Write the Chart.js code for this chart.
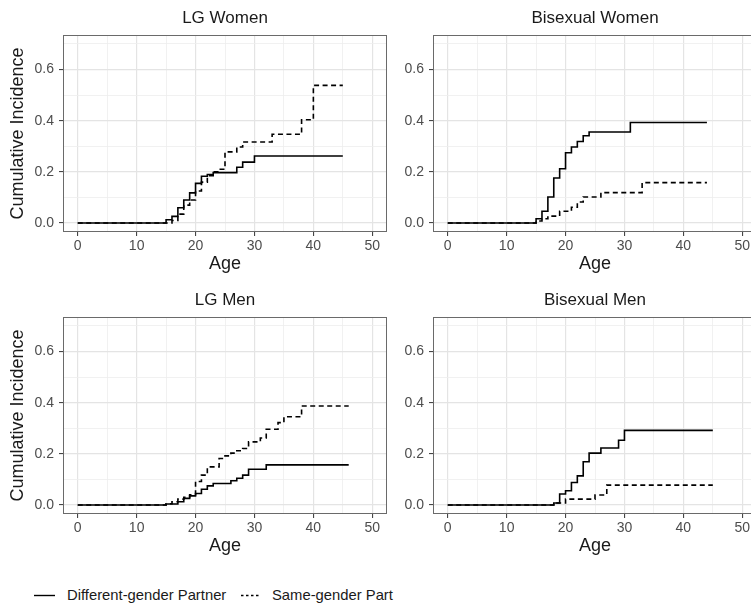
<!DOCTYPE html>
<html>
<head>
<meta charset="utf-8">
<script src="https://cdn.jsdelivr.net/npm/chart.js@4.4.1/dist/chart.umd.min.js"></script>
<style>
  html, body { margin: 0; padding: 0; background: #fff; overflow: hidden; }
  body { width: 751px; height: 608px; position: relative; font-family: "Liberation Sans", Arial, Helvetica, sans-serif; }
  .panel { position: absolute; width: 400px; height: 280px; }
  .legend { position: absolute; top: 585px; height: 20px; line-height: 20px; font-size: 14.8px; color: #1a1a1a; white-space: nowrap; }
  .legend svg { position: absolute; top: 0; }
</style>
</head>
<body>
<div class="panel" style="left:0px;top:0px"><canvas id="lgWomen" width="400" height="280"></canvas></div>
<div class="panel" style="left:370px;top:0px"><canvas id="biWomen" width="400" height="280"></canvas></div>
<div class="panel" style="left:0px;top:282px"><canvas id="lgMen" width="400" height="280"></canvas></div>
<div class="panel" style="left:370px;top:282px"><canvas id="biMen" width="400" height="280"></canvas></div>

<svg class="legend" style="left:34px;top:585px" width="22" height="20"><line x1="0" y1="10.5" x2="21" y2="10.5" stroke="#000" stroke-width="1.4"/></svg>
<div class="legend" style="left:67px">Different-gender Partner</div>
<svg class="legend" style="left:241px;top:585px" width="20" height="20"><line x1="0" y1="10.5" x2="18" y2="10.5" stroke="#000" stroke-width="1.4" stroke-dasharray="2.5,2.5"/></svg>
<div class="legend" style="left:272px">Same-gender Part</div>

<script>
// axis ticks (minor ones have empty labels)
const xTicks = [0, 5, 10, 15, 20, 25, 30, 35, 40, 45, 50];
const xLabels = ['0', '', '10', '', '20', '', '30', '', '40', '', '50'];
const yTicks = [0, 0.1, 0.2, 0.3, 0.4, 0.5, 0.6, 0.7];
const yLabels = ['0.0', '', '0.2', '', '0.4', '', '0.6', ''];

// LG Women
const lgWomenDiffAge = [0, 15, 16, 17, 18, 19, 20, 21, 22, 23, 27, 28, 30, 45];
const lgWomenDiffInc = [0, 0.013, 0.026, 0.06, 0.09, 0.118, 0.155, 0.183, 0.19, 0.197, 0.218, 0.238, 0.262, 0.262];
const lgWomenSameAge = [0, 16, 17, 18, 19, 20, 21, 22, 23, 24, 25, 27, 28, 33, 38, 40, 45];
const lgWomenSameInc = [0, 0.01, 0.035, 0.07, 0.09, 0.125, 0.16, 0.185, 0.2, 0.21, 0.278, 0.297, 0.317, 0.347, 0.404, 0.538, 0.538];

// Bisexual Women
const biWomenDiffAge = [0, 15, 16, 17, 18, 19, 20, 21, 22, 23, 24, 31, 44];
const biWomenDiffInc = [0, 0.017, 0.046, 0.102, 0.176, 0.212, 0.275, 0.297, 0.319, 0.341, 0.356, 0.393, 0.393];
const biWomenSameAge = [0, 15, 16, 17, 19, 21, 22, 23, 26, 33, 44];
const biWomenSameInc = [0, 0.008, 0.017, 0.027, 0.046, 0.062, 0.082, 0.102, 0.119, 0.158, 0.158];

// LG Men
const lgMenDiffAge = [0, 15, 17, 18, 19, 20, 21, 22, 23, 26, 27, 28, 29, 32, 46];
const lgMenDiffInc = [0, 0.004, 0.013, 0.026, 0.036, 0.045, 0.062, 0.075, 0.084, 0.095, 0.105, 0.117, 0.14, 0.157, 0.157];
const lgMenSameAge = [0, 15, 16, 17, 18, 19, 20, 21, 22, 24, 25, 26, 27, 28, 29, 31, 32, 34, 35, 38, 46];
const lgMenSameInc = [0, 0.005, 0.013, 0.023, 0.03, 0.04, 0.092, 0.117, 0.149, 0.182, 0.192, 0.203, 0.212, 0.221, 0.247, 0.262, 0.296, 0.322, 0.345, 0.387, 0.387];

// Bisexual Men
const biMenDiffAge = [0, 18, 19, 20, 21, 22, 23, 24, 26, 29, 30, 45];
const biMenDiffInc = [0, 0.008, 0.043, 0.056, 0.088, 0.114, 0.169, 0.203, 0.223, 0.253, 0.292, 0.292];
const biMenSameAge = [0, 18, 20, 25, 27, 45];
const biMenSameInc = [0, 0.008, 0.023, 0.039, 0.078, 0.078];

Chart.defaults.font.family = '"Liberation Sans", Arial, Helvetica, sans-serif';

const panelBorder = {
    id: 'panelBorder',
    afterDatasetsDraw(chart) {
        const a = chart.chartArea;
        const ctx = chart.ctx;
        ctx.save();
        ctx.strokeStyle = '#6a6a6a';
        ctx.lineWidth = 1;
        ctx.strokeRect(Math.round(a.left) + 0.5, Math.round(a.top) + 0.5,
            Math.round(a.right - a.left) - 1, Math.round(a.bottom - a.top) - 1);
        ctx.restore();
    }
};

function toPoints(ages, inc) {
    return ages.map((a, i) => ({ x: a, y: inc[i] }));
}

function gridOpts(labels) {
    return {
        color: c => labels[c.index] === '' ? '#eeeeee' : '#e4e4e4',
        lineWidth: c => labels[c.index] === '' ? 0.8 : 1.2,
        tickColor: c => labels[c.index] === '' ? 'rgba(0,0,0,0)' : '#333333',
        tickLength: 4,
        tickWidth: 1
    };
}

function makePanel(id, title, diffAge, diffInc, sameAge, sameInc, showYTitle) {
    const ctx = document.getElementById(id).getContext('2d');
    return new Chart(ctx, {
        type: 'line',
        data: {
            datasets: [
                {
                    label: 'Different-gender Partner',
                    data: toPoints(diffAge, diffInc),
                    borderColor: '#000',
                    borderWidth: 1.6,
                    stepped: true,
                    pointRadius: 0,
                    fill: false
                },
                {
                    label: 'Same-gender Partner',
                    data: toPoints(sameAge, sameInc),
                    borderColor: '#000',
                    borderWidth: 1.6,
                    borderDash: [5, 3.5],
                    stepped: true,
                    pointRadius: 0,
                    fill: false
                }
            ]
        },
        options: {
            responsive: false,
            animation: false,
            layout: { padding: { left: 0, right: 13, top: 0, bottom: 0 } },
            plugins: {
                legend: { display: false },
                tooltip: { enabled: false },
                title: {
                    display: true,
                    text: title,
                    fullSize: false,
                    color: '#1a1a1a',
                    font: { size: 17, weight: 'normal' },
                    padding: { top: 8.3, bottom: 6.3 }
                }
            },
            scales: {
                x: {
                    type: 'linear',
                    min: -2.5,
                    max: 52.5,
                    afterBuildTicks: s => { s.ticks = xTicks.map(v => ({ value: v })); },
                    afterFit: s => { s.height = 48; },
                    border: { display: false },
                    grid: gridOpts(xLabels),
                    ticks: {
                        autoSkip: false,
                        maxRotation: 0,
                        padding: 2,
                        color: '#4d4d4d',
                        font: { size: 14 },
                        callback: (v, i) => xLabels[i]
                    },
                    title: {
                        display: true,
                        text: 'Age',
                        color: '#1a1a1a',
                        font: { size: 18 },
                        padding: { top: 0, bottom: 4.7 }
                    }
                },
                y: {
                    type: 'linear',
                    min: -0.035,
                    max: 0.735,
                    afterBuildTicks: s => { s.ticks = yTicks.map(v => ({ value: v })); },
                    afterFit: s => { s.width = 63; },
                    border: { display: false },
                    grid: gridOpts(yLabels),
                    ticks: {
                        autoSkip: false,
                        padding: 5,
                        color: '#4d4d4d',
                        font: { size: 14 },
                        callback: (v, i) => yLabels[i]
                    },
                    title: {
                        display: showYTitle,
                        text: 'Cumulative Incidence',
                        color: '#1a1a1a',
                        font: { size: 18 },
                        padding: { top: 7.7, bottom: 0 }
                    }
                }
            }
        },
        plugins: [panelBorder]
    });
}

makePanel('lgWomen', 'LG Women', lgWomenDiffAge, lgWomenDiffInc, lgWomenSameAge, lgWomenSameInc, true);
makePanel('biWomen', 'Bisexual Women', biWomenDiffAge, biWomenDiffInc, biWomenSameAge, biWomenSameInc, false);
makePanel('lgMen', 'LG Men', lgMenDiffAge, lgMenDiffInc, lgMenSameAge, lgMenSameInc, true);
makePanel('biMen', 'Bisexual Men', biMenDiffAge, biMenDiffInc, biMenSameAge, biMenSameInc, false);
</script>
</body>
</html>
